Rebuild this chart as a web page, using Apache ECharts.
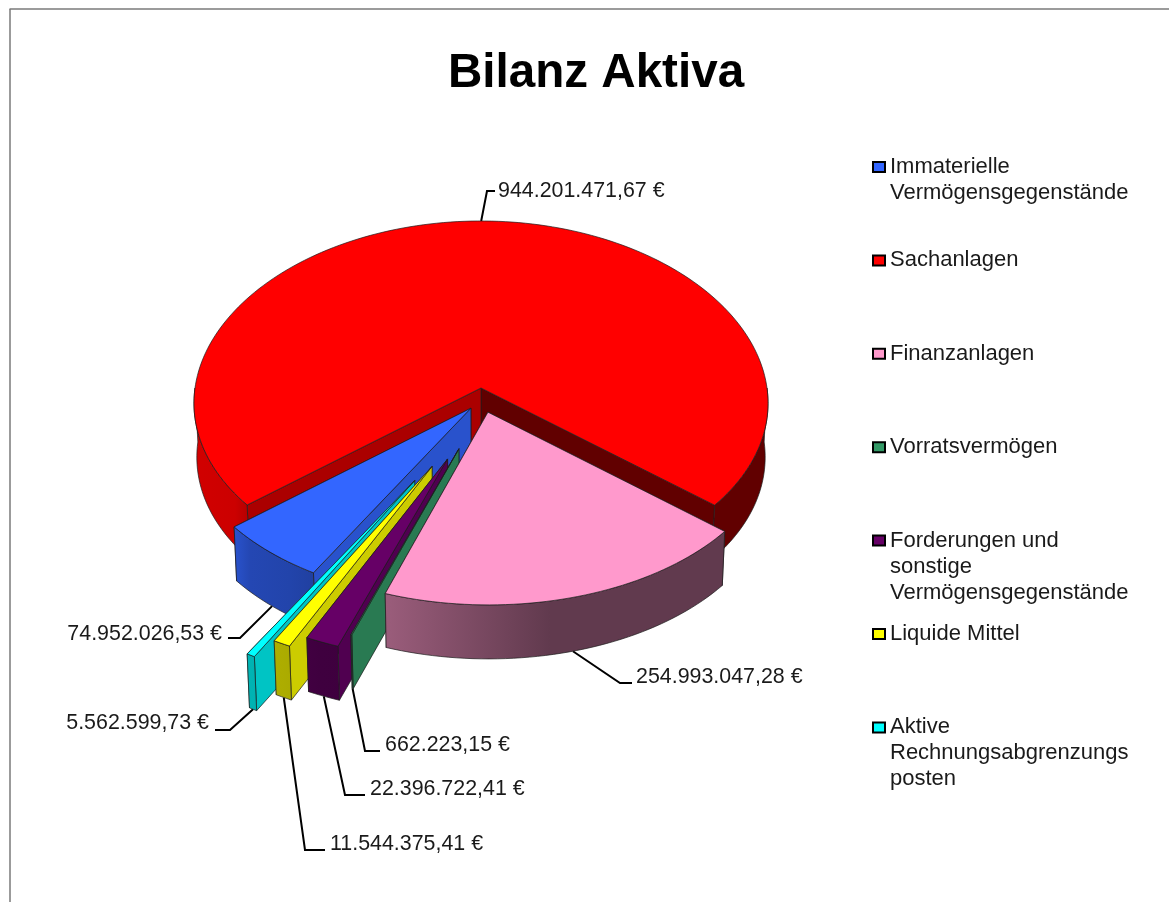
<!DOCTYPE html>
<html>
<head>
<meta charset="utf-8">
<title>Bilanz Aktiva</title>
<style>
	html, body { margin: 0; padding: 0; background: #fff; }
	#main { width: 1169px; height: 902px; }
</style>
<script src="https://cdn.jsdelivr.net/npm/echarts@6/dist/echarts.min.js"></script>
</head>
<body>
<div id="main"></div>
<script>
	/* Daten */
	var categories = [
		'Immaterielle\nVermögensgegenstände',
		'Sachanlagen',
		'Finanzanlagen',
		'Vorratsvermögen',
		'Forderungen und\nsonstige\nVermögensgegenstände',
		'Liquide Mittel',
		'Aktive\nRechnungsabgrenzungs\nposten'
	];
	var values = [74952026.53, 944201471.67, 254993047.28, 662223.15, 22396722.41, 11544375.41, 5562599.73];
	var colors = ['#3366ff', '#ff0000', '#ff99cc', '#339966', '#660066', '#ffff00', '#00ffff'];

	/* Darstellung der Tortenstuecke (herausgezogen, in Radius-Einheiten) */
	var pullOut = [[-0.035, 0.113], [0, 0], [0.024, 0.135], [-0.075, 0.335], [-0.113, 0.39], [-0.165, 0.43], [-0.222, 0.505]];
	var wallShade = [0.8, 0.67, 0.6, 0.8, 0.78, 0.8, 0.77];
	var drawOrder = [1, 0, 6, 5, 4, 3, 2];
	/* Beschriftung: Text x/y, Ausrichtung, Knick x/y, Ende der Linie x */
	var labelLayout = [
		{ x: 222, y: 634, align: 'right', kx: 240, ky: 638, ex: 228 },
		{ x: 498, y: 191, align: 'left', kx: 487, ky: 191, ex: 495 },
		{ x: 636, y: 677, align: 'left', kx: 620, ky: 683, ex: 632 },
		{ x: 385, y: 745, align: 'left', kx: 365, ky: 751, ex: 380 },
		{ x: 370, y: 789, align: 'left', kx: 345, ky: 795, ex: 365 },
		{ x: 330, y: 844, align: 'left', kx: 305, ky: 850, ex: 325 },
		{ x: 209, y: 723, align: 'right', kx: 230, ky: 730, ex: 215 }
	];

	var fontName = '"Liberation Sans", Arial, sans-serif';
	var CX = 481, CY = 388, A = 286, B = 177.5, K = 0.0627, DEPTH = 54;
	var START_ANGLE = 210.2;

	/* Grundflaeche -> Bildschirm (leichte Perspektive) */
	function project(x, y) {
		var s = 1 / (1 - K * y);
		return [CX + A * x * (1 + 1.36 * (s - 1)), CY + B * y * s];
	}
	function lower(p) {
		return [CX + (p[0] - CX) * 0.99, p[1] + DEPTH];
	}
	function shade(hex, f) {
		var n = parseInt(hex.slice(1), 16);
		var r = Math.round((n >> 16 & 255) * f), g = Math.round((n >> 8 & 255) * f), b = Math.round((n & 255) * f);
		return 'rgb(' + r + ',' + g + ',' + b + ')';
	}
	function rimFill(hex) {
		var stops = [[195, 0.82], [235, 0.8], [250, 0.7], [290, 0.67], [320, 0.62], [390, 0.6], [550, 0.38], [768, 0.38]];
		return new echarts.graphic.LinearGradient(195, 0, 768, 0, stops.map(function (s) {
			return { offset: (s[0] - 195) / 573, color: shade(hex, s[1]) };
		}), true);
	}

	var total = values.reduce(function (a, b) { return a + b; }, 0);
	var slices = [];
	(function () {
		var a = START_ANGLE;
		values.forEach(function (v) {
			var sweep = v / total * 360;
			slices.push({ from: a, to: a + sweep });
			a += sweep;
		});
	})();

	function point(i, deg) {
		var r = deg * Math.PI / 180;
		return project(Math.sin(r) + pullOut[i][0], -Math.cos(r) + pullOut[i][1]);
	}
	function arc(i, a, b) {
		var pts = [], n = Math.max(1, Math.ceil((b - a) / 1.5));
		for (var k = 0; k <= n; k++) {
			pts.push(point(i, a + (b - a) * k / n));
		}
		return pts;
	}
	function formatEuro(v) {
		return v.toLocaleString('de-DE', { minimumFractionDigits: 2, maximumFractionDigits: 2 }) + ' €';
	}
	function poly(pts, fill, z2) {
		return {
			type: 'polygon',
			z2: z2,
			shape: { points: pts },
			style: { fill: fill, stroke: '#1c1c1c', lineWidth: 0.7, lineJoin: 'round' }
		};
	}

	function renderSlice(params) {
		var i = params.seriesIndex;
		var s = slices[i], col = colors[i], ch = [];
		var apex = project(pullOut[i][0], pullOut[i][1]);
		var e1 = point(i, s.from), e2 = point(i, s.to);

		/* Innenwaende */
		var endShade = s.to - s.from > 180 ? 0.38 : wallShade[i];
		ch.push(poly([apex, e2, lower(e2), lower(apex)], shade(col, endShade), 1));
		ch.push(poly([apex, e1, lower(e1), lower(apex)], shade(col, wallShade[i]), 2));

		/* Aussenwand, nur der vordere Teil ist sichtbar */
		[[90, 270], [450, 630]].forEach(function (w) {
			var a = Math.max(s.from, w[0]), b = Math.min(s.to, w[1]);
			if (b > a) {
				var top = arc(i, a, b);
				ch.push(poly(top.concat(top.map(lower).reverse()), rimFill(col), 3));
			}
		});

		/* Oberseite */
		ch.push(poly([apex].concat(arc(i, s.from, s.to)), col, 4));

		/* Beschriftung mit Fuehrungslinie */
		var mid = (s.from + s.to) / 2, mp = point(i, mid);
		var start = mp[1] > CY ? lower(mp) : mp;
		var l = labelLayout[i];
		ch.push({
			type: 'polyline',
			z2: 0,
			shape: { points: [start, [l.kx, l.ky], [l.ex, l.ky]] },
			style: { fill: null, stroke: '#000', lineWidth: 2 }
		});
		ch.push({
			type: 'text',
			z2: 5,
			style: {
				text: formatEuro(values[i]),
				x: l.x, y: l.y,
				align: l.align, verticalAlign: 'middle',
				font: '21.4px ' + fontName,
				fill: '#1a1a1a'
			}
		});
		return { type: 'group', children: ch };
	}

	/* Legende: je Eintrag eine eigene, damit der Abstand gleich bleibt.
	   Leerzeilen davor halten das Symbol auf Hoehe der ersten Zeile. */
	var LEGEND_LINE = 26;
	var legends = categories.map(function (name, i) {
		var lines = name.split('\n').length;
		var iconY = 167 + i * 93.4;
		return {
			data: [{ name: name, icon: 'rect', itemStyle: { color: colors[i], borderColor: '#000', borderWidth: 2 } }],
			orient: 'vertical',
			left: 872,
			top: iconY - (2 * lines - 1) * LEGEND_LINE / 2,
			padding: 0,
			itemWidth: 12,
			itemHeight: 10,
			selectedMode: false,
			formatter: function (n) {
				return new Array(lines).join('\n') + n;
			},
			textStyle: {
				fontFamily: fontName,
				fontSize: 22,
				color: '#1a1a1a',
				lineHeight: LEGEND_LINE
			}
		};
	});

	var myChart = echarts.init(document.getElementById('main'));
	var option = {
		backgroundColor: '#ffffff',
		animation: false,
		title: {
			text: 'Bilanz Aktiva',
			left: 591,
			top: 45,
			textAlign: 'center',
			textStyle: { fontFamily: fontName, fontSize: 47.6, fontWeight: 'bold', color: '#000' }
		},
		legend: legends,
		graphic: [
			{ type: 'line', silent: true, shape: { x1: 9.5, y1: 9, x2: 1169, y2: 9 }, style: { stroke: '#7a7a7a', lineWidth: 1.5 } },
			{ type: 'line', silent: true, shape: { x1: 10, y1: 9, x2: 10, y2: 902 }, style: { stroke: '#7a7a7a', lineWidth: 1.5 } }
		],
		series: categories.map(function (name, i) {
			return {
				type: 'custom',
				name: name,
				coordinateSystem: 'none',
				z: 2 + drawOrder.indexOf(i),
				silent: true,
				itemStyle: { color: colors[i] },
				renderItem: renderSlice,
				data: [[values[i]]]
			};
		})
	};
	myChart.setOption(option);
</script>
</body>
</html>
